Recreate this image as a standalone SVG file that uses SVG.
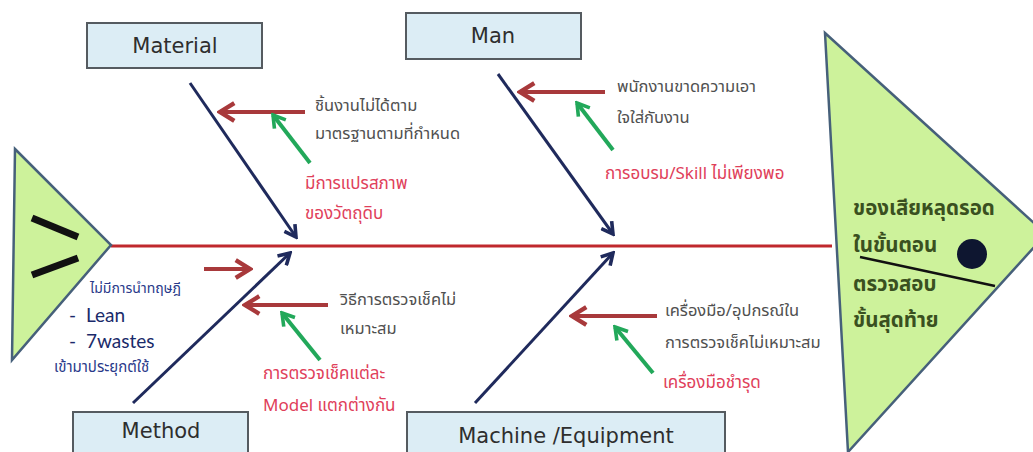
<svg xmlns="http://www.w3.org/2000/svg" width="1033" height="452" viewBox="0 0 1033 452">
<style>
.box{fill:#dcedf5;stroke:#555b60;stroke-width:2}
.btxt{font-family:"DejaVu Sans",sans-serif;font-size:21px;fill:#2e2e2e;text-anchor:middle}
.tri{fill:#cdf29b;stroke:#46607a;stroke-width:2.5}
.th{font-family:"Noto Sans Thai","Loma","Garuda","Norasi","Noto Sans",sans-serif;font-size:14px}
.big{font-size:16.5px}
.gray{fill:#505050}
.red{fill:#e0405a;font-size:17px}
.navyt{fill:#2a3a8a}
.en{font-family:Lato,"Liberation Sans",sans-serif;font-size:19px;fill:#1a2a6a}
.main{font-family:"Noto Sans Thai","Loma","Garuda","Noto Sans",sans-serif;font-size:20.5px;font-weight:bold;fill:#3a5020}
.bone{stroke:#1f2a5c;stroke-width:3;fill:none;marker-end:url(#mNavy)}
.rarr{stroke:#a8393b;stroke-width:4;fill:none;marker-end:url(#mRed)}
.garr{stroke:#22a85a;stroke-width:4;fill:none;marker-end:url(#mGreen)}
</style>
<defs>
<marker id="mNavy" viewBox="0 0 20 20" refX="17" refY="10" markerWidth="16" markerHeight="16" markerUnits="userSpaceOnUse" orient="auto">
<path d="M3,2 L17,10 L3,18" fill="none" stroke="#1f2a5c" stroke-width="4.5"/>
</marker>
<marker id="mRed" viewBox="0 0 20 20" refX="17" refY="10" markerWidth="22" markerHeight="22" markerUnits="userSpaceOnUse" orient="auto">
<path d="M4,2 L17,10 L4,18" fill="none" stroke="#a8393b" stroke-width="4"/>
</marker>
<marker id="mGreen" viewBox="0 0 20 20" refX="17" refY="10" markerWidth="18" markerHeight="18" markerUnits="userSpaceOnUse" orient="auto">
<path d="M4,2 L17,10 L4,18" fill="none" stroke="#22a85a" stroke-width="4"/>
</marker>
</defs>

<g id="connectors">
<line x1="111" y1="246" x2="832" y2="246" stroke="#c0282d" stroke-width="3"/>
<line class="bone" x1="190" y1="83" x2="296" y2="237"/>
<line class="bone" x1="498" y1="74" x2="613" y2="234"/>
<line class="bone" x1="133" y1="403" x2="290" y2="253"/>
<line class="bone" x1="475" y1="403" x2="613" y2="253"/>
<line class="rarr" x1="305" y1="112" x2="220" y2="112"/>
<line class="rarr" x1="605" y1="92" x2="520" y2="92"/>
<line class="rarr" x1="204" y1="269" x2="250" y2="269"/>
<line class="rarr" x1="328" y1="305" x2="245" y2="305"/>
<line class="rarr" x1="657" y1="316" x2="572" y2="316"/>
<line class="garr" x1="310" y1="163" x2="273" y2="115"/>
<line class="garr" x1="613" y1="150" x2="577" y2="103"/>
<line class="garr" x1="320" y1="360" x2="282" y2="313"/>
<line class="garr" x1="653" y1="373" x2="615" y2="327"/>
</g>

<g id="head">
<polygon class="tri" points="825,33 1046,234 848,452"/>
<text class="main" x="853" y="215">ของเสียหลุดรอด</text>
<text class="main" x="853" y="252">ในขั้นตอน</text>
<text class="main" x="853" y="291">ตรวจสอบ</text>
<text class="main" x="853" y="327">ขั้นสุดท้าย</text>
<circle cx="972" cy="254" r="15" fill="#0e1630"/>
<line x1="860" y1="257" x2="995" y2="286" stroke="#111" stroke-width="2.5"/>
</g>

<g id="tail">
<polygon class="tri" points="15,149 111,245 12,360"/>
<line x1="32" y1="218" x2="78" y2="237" stroke="#111" stroke-width="7"/>
<line x1="32" y1="275" x2="78" y2="258" stroke="#111" stroke-width="7"/>
</g>

<g id="material">
<rect class="box" x="87" y="23" width="175" height="45"/>
<text class="btxt" x="175" y="53">Material</text>
<text class="th big gray" x="315" y="111">ชิ้นงานไม่ได้ตาม</text>
<text class="th big gray" x="315" y="139">มาตรฐานตามที่กำหนด</text>
<text class="th red" x="305" y="189">มีการแปรสภาพ</text>
<text class="th red" x="305" y="219">ของวัตถุดิบ</text>
</g>

<g id="man">
<rect class="box" x="406" y="13" width="175" height="46"/>
<text class="btxt" x="493" y="43">Man</text>
<text class="th big gray" x="617" y="92">พนักงานขาดความเอา</text>
<text class="th big gray" x="617" y="123">ใจใส่กับงาน</text>
<text class="th red" x="605" y="179">การอบรม/Skill  ไม่เพียงพอ</text>
</g>

<g id="method">
<rect class="box" x="73" y="412" width="175" height="45"/>
<text class="btxt" x="161" y="438">Method</text>
<text class="th navyt" x="90" y="293">ไม่มีการนำทฤษฎี</text>
<text class="en" x="69" y="322">-</text>
<text class="en" x="86" y="322">Lean</text>
<text class="en" x="69" y="348">-</text>
<text class="en" x="86" y="348">7wastes</text>
<text class="th navyt" x="54" y="372" style="font-size:15px">เข้ามาประยุกต์ใช้</text>
<text class="th big gray" x="340" y="305">วิธีการตรวจเช็คไม่</text>
<text class="th big gray" x="340" y="334">เหมาะสม</text>
<text class="th red" x="263" y="379">การตรวจเช็คแต่ละ</text>
<text class="th red" x="263" y="411">Model  แตกต่างกัน</text>
</g>

<g id="machine">
<rect class="box" x="407" y="412" width="318" height="45"/>
<text class="btxt" x="566" y="443">Machine /Equipment</text>
<text class="th big gray" x="665" y="316">เครื่องมือ/อุปกรณ์ใน</text>
<text class="th big gray" x="665" y="348">การตรวจเช็คไม่เหมาะสม</text>
<text class="th red" x="663" y="388">เครื่องมือชำรุด</text>
</g>
</svg>
